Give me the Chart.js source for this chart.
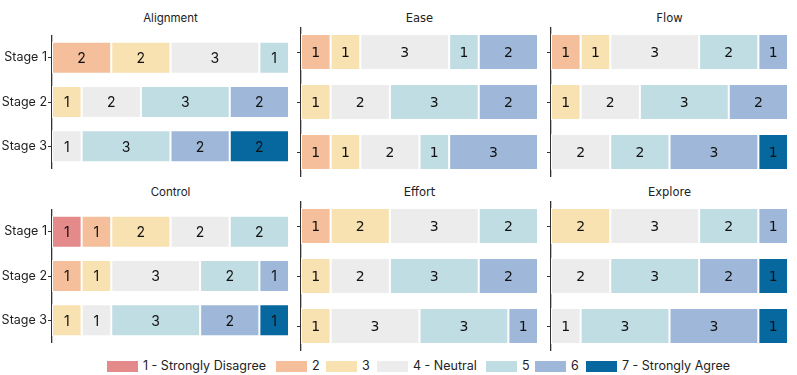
<!DOCTYPE html>
<html>
<head>
<meta charset="utf-8">
<script src="https://cdn.jsdelivr.net/npm/chart.js@4"></script>
<style>
  html, body { margin: 0; padding: 0; background: #fff; }
  body { width: 797px; height: 375px; position: relative; overflow: hidden; }
  canvas { position: absolute; }
  .title { position: absolute; width: 237px; text-align: center; font-size: 11.5px; color: #222; line-height: 14px; }
  .poppins { font-family: Inter, "Open Sans", sans-serif; }
  .dejavu { font-family: "DejaVu Sans", sans-serif; }
  .sw { position: absolute; top: 361px; width: 31px; height: 11px; }
  .lt { position: absolute; top: 359px; line-height: 14px; font-family: Inter, sans-serif; font-size: 12.5px; color: #222; white-space: nowrap; }
</style>
</head>
<body>
<script>
// ---- data ----
const categories = ['Stage 1', 'Stage 2', 'Stage 3'];
const levelLabels = ['1 - Strongly Disagree', '2', '3', '4 - Neutral', '5', '6', '7 - Strongly Agree'];
const levelColors = ['#e58a8b', '#f4bf9a', '#f9e2b1', '#ececec', '#c1dde4', '#9fb8d9', '#07679f'];
const panelTitles = ['Alignment', 'Ease', 'Flow', 'Control', 'Effort', 'Explore'];
// counts per stage, by level 1..7
const alignment = [[0, 2, 2, 3, 1, 0, 0], [0, 0, 1, 2, 3, 2, 0], [0, 0, 0, 1, 3, 2, 2]];
const ease      = [[0, 1, 1, 3, 1, 2, 0], [0, 0, 1, 2, 3, 2, 0], [0, 1, 1, 2, 1, 3, 0]];
const flow      = [[0, 1, 1, 3, 2, 1, 0], [0, 0, 1, 2, 3, 2, 0], [0, 0, 0, 2, 2, 3, 1]];
const control   = [[1, 1, 2, 2, 2, 0, 0], [0, 1, 1, 3, 2, 1, 0], [0, 0, 1, 1, 3, 2, 1]];
const effort    = [[0, 1, 2, 3, 2, 0, 0], [0, 0, 1, 2, 3, 2, 0], [0, 0, 1, 3, 3, 1, 0]];
const explore   = [[0, 0, 2, 3, 2, 1, 0], [0, 0, 0, 2, 3, 2, 1], [0, 0, 0, 1, 3, 3, 1]];
const panelData = [alignment, ease, flow, control, effort, explore];
const totalResponses = 8;

// ---- layout ----
const axisX = [52, 301, 551];
const rowTop = [27, 201];
const titleY = [11, 185];
const plotW = 237;
const plotH = 150;
const legendSwatchX = [107, 276, 326, 377, 486, 535, 586];

const labelPlugin = {
  id: 'segLabels',
  afterDatasetsDraw(chart, args, opts) {
    const ctx = chart.ctx;
    ctx.save();
    ctx.font = opts.font;
    ctx.fillStyle = '#111';
    ctx.textAlign = 'center';
    ctx.textBaseline = 'middle';
    chart.data.datasets.forEach((ds, i) => {
      const meta = chart.getDatasetMeta(i);
      meta.data.forEach((el, j) => {
        const v = ds.data[j];
        if (!v) return;
        const p = el.getProps(['x', 'y', 'base'], true);
        ctx.fillText(String(v), (p.x + p.base) / 2, p.y + 1);
      });
    });
    ctx.restore();
  }
};

panelData.forEach((counts, idx) => {
  const col = idx % 3, row = Math.floor(idx / 3);
  const first = col === 0;
  const yW = first ? 52 : 8;
  const left = axisX[col] - yW;
  const width = yW + plotW + 3;

  const t = document.createElement('div');
  t.className = 'title ' + (first ? 'poppins' : 'dejavu');
  t.style.left = axisX[col] + 'px';
  t.style.top = titleY[row] + 'px';
  t.textContent = panelTitles[idx];
  document.body.appendChild(t);

  const cv = document.createElement('canvas');
  cv.width = width; cv.height = plotH;
  cv.style.left = left + 'px'; cv.style.top = rowTop[row] + 'px';
  cv.style.width = width + 'px'; cv.style.height = plotH + 'px';
  document.body.appendChild(cv);

  const datasets = levelLabels.map((lab, k) => ({
    label: lab,
    data: counts.map(stage => stage[k] || null),
    backgroundColor: levelColors[k],
    borderColor: '#ffffff',
    borderWidth: 1,
    borderSkipped: false,
    barPercentage: 0.72,
    categoryPercentage: 1.0
  }));

  new Chart(cv, {
    type: 'bar',
    data: { labels: categories, datasets },
    options: {
      indexAxis: 'y',
      responsive: false,
      animation: false,
      devicePixelRatio: 1,
      layout: { padding: { left: 0, right: 3, top: 0, bottom: 0 } },
      plugins: {
        legend: { display: false },
        tooltip: { enabled: false },
        segLabels: { font: first ? '14px Inter' : '14px "DejaVu Sans"' }
      },
      scales: {
        x: { stacked: true, min: 0, max: totalResponses, display: false },
        y: {
          stacked: true,
          afterFit(scale) { scale.width = yW; },
          border: { display: true, color: '#333', width: 1.3 },
          grid: { offset: false, drawOnChartArea: false, drawTicks: true, tickLength: 4, color: '#333', lineWidth: 1 },
          ticks: {
            display: first,
            padding: 1,
            color: '#222',
            font: { family: 'Inter', size: 12.5 }
          }
        }
      }
    },
    plugins: [labelPlugin]
  });
});

// legend
levelLabels.forEach((lab, k) => {
  const sw = document.createElement('div');
  sw.className = 'sw';
  sw.style.left = legendSwatchX[k] + 'px';
  sw.style.background = levelColors[k];
  const tx = document.createElement('div');
  tx.className = 'lt';
  tx.style.left = (legendSwatchX[k] + 36) + 'px';
  tx.textContent = lab;
  document.body.appendChild(sw);
  document.body.appendChild(tx);
});
</script>
</body>
</html>
